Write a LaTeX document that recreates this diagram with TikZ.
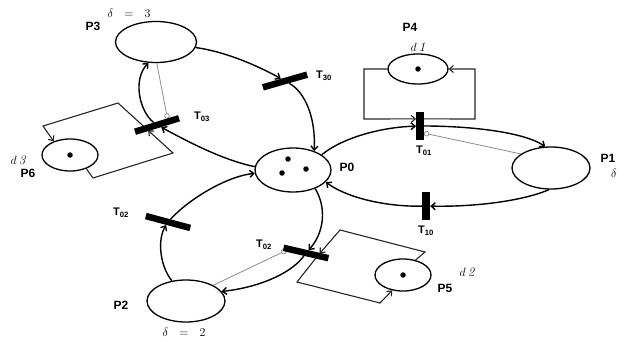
\documentclass[tikz,border=0pt]{standalone}
\usepackage{fontspec}
\setsansfont{Liberation Sans}
\usetikzlibrary{shapes.geometric,arrows.meta,calc,backgrounds}
\begin{document}
\begin{tikzpicture}[x=1pt,y=-1pt,
  place/.style={ellipse, draw, line width=1.3pt, inner sep=0pt},
  tbar/.style={rectangle, fill=black, inner sep=0pt, minimum width=46pt, minimum height=6.5pt},
  vbar/.style={rectangle, fill=black, inner sep=0pt, minimum width=7.5pt, minimum height=28pt},
  arc/.style={line width=1.4pt, -{Straight Barb[length=4pt,width=7pt]}},
  loopline/.style={line width=1.1pt, draw=black!85, -{Straight Barb[length=4pt,width=7pt]}},
  inhib/.style={line width=0.8pt, draw=black!45, -{Circle[open,length=5.5pt,width=5.5pt]}},
  plabel/.style={font=\sffamily\bfseries\fontsize{12}{12}\selectfont, inner sep=0pt},
  tlabel/.style={font=\sffamily\bfseries\fontsize{11}{11}\selectfont, inner sep=0pt},
  dlabel/.style={font=\fontsize{13}{13}\selectfont, inner sep=0pt},
  token/.style={circle, fill=black, inner sep=0pt, minimum size=5.5pt},
]
\useasboundingbox (0,0) rectangle (626,342);

% places
\node[place, minimum width=76pt, minimum height=44pt] (P0) at (293,170) {};
\node[place, minimum width=78pt, minimum height=42pt] (P1) at (551,168) {};
\node[place, minimum width=78pt, minimum height=42pt] (P2) at (186,301) {};
\node[place, minimum width=81pt, minimum height=41pt] (P3) at (156,42) {};
\node[place, minimum width=60pt, minimum height=30pt] (P4) at (418,69) {};
\node[place, minimum width=56pt, minimum height=32pt] (P5) at (403,275) {};
\node[place, minimum width=56pt, minimum height=32pt] (P6) at (70,155) {};

% tokens
\node[token] (k1) at (288,159) {};
\node[token] (k2) at (282,173) {};
\node[token] (k3) at (306,169) {};
\node[token] (k4) at (418,69) {};
\node[token] (k5) at (403,275) {};
\node[token] (k6) at (70,155) {};

% transitions
\node[tbar, rotate=16] (T30) at (285,81) {};
\node[tbar, rotate=17] (T03) at (157,125) {};
\node[vbar] (T01) at (420,126) {};
\node[vbar, minimum width=8pt] (T10) at (426,206) {};
\node[tbar, rotate=-15] (T20) at (168,222) {};
\node[tbar, rotate=-13] (T02) at (306,253) {};

% labels
\node[plabel] (l0) at (347,167) {P0};
\node[plabel] (l1) at (608,158) {P1};
\node[dlabel] (s1) at (614,173) {$\delta$};
\node[plabel] (l2) at (121,305) {P2};
\node[dlabel] (s2) at (184,332) {$\delta\hspace{0.6em}=\hspace{0.6em}2$};
\node[plabel] (l3) at (93,26) {P3};
\node[dlabel] (s3) at (129,13) {$\delta\hspace{0.6em}=\hspace{0.6em}3$};
\node[plabel] (l4) at (410,27) {P4};
\node[dlabel] (d1) at (418,47) {$d\,\mathit{1}$};
\node[plabel] (l5) at (445,288) {P5};
\node[dlabel] (d2) at (467,272) {$d\,\mathit{2}$};
\node[plabel] (l6) at (28,173) {P6};
\node[dlabel] (d3) at (18,160) {$d\,\mathit{3}$};
\node[tlabel] (n30) at (324,76) {T\textsubscript{30}};
\node[tlabel] (n03) at (202,117) {T\textsubscript{03}};
\node[tlabel] (n01) at (424,151) {T\textsubscript{01}};
\node[tlabel] (n10) at (426,231) {T\textsubscript{10}};
\node[tlabel] (n20) at (121,213) {T\textsubscript{02}};
\node[tlabel] (n02) at (264,245) {T\textsubscript{02}};

% loop corners
\coordinate (a4) at (364,69);
\coordinate (b4) at (364,119);
\coordinate (c4) at (475,119);
\coordinate (e4) at (475,69);
\coordinate (tl6) at (43,126);
\coordinate (tr6) at (118,103);
\coordinate (br6) at (173,153);
\coordinate (bl6) at (93,178);
\coordinate (tl5) at (340,230);
\coordinate (tr5) at (425,252);
\coordinate (br5) at (380,303);
\coordinate (bl5) at (297,282);

% points on the bars
\coordinate (t01in) at ($(T01.west)!0.5!(T01.north west)$);
\coordinate (t01out) at ($(T01.east)!0.5!(T01.north east)$);
\coordinate (t03in) at ($(T03)!0.5!(T03.west)$);
\coordinate (t02in) at ($(T02)!0.52!(T02.east)$);
\coordinate (h03) at ($(T03)!0.5!(T03.east)$);
\coordinate (h01) at ($(T01.east)!0.5!(T01.south east)$);
\coordinate (h02) at ($(T02)!0.75!(T02.west)$);

\begin{pgfonlayer}{background}
% main arcs
\draw[arc] (P3.-8) .. controls (228,52) and (262,68) .. (T30);
\draw[arc] (T30) .. controls (305,92) and (316,118) .. (P0.42);
\draw[arc] (P0.175) .. controls (222,160) and (185,140) .. (T03);
\draw[arc] (T03) .. controls (140,112) and (132,80) .. (P3.-110);
\draw[arc] (P0.28) .. controls (345,136) and (385,127) .. (T01);
\draw[arc] (T01) .. controls (465,126) and (522,131) .. (P1.105);
\draw[arc] (P1.-95) .. controls (520,202) and (470,207) .. (T10);
\draw[arc] (T10) .. controls (385,207) and (345,197) .. (P0.-20);
\draw[arc] (P0.-40) .. controls (327,208) and (324,233) .. (T02);
\draw[arc] (T02) .. controls (290,275) and (255,288) .. (P2.15);
\draw[arc] (P2.125) .. controls (160,266) and (157,240) .. (T20);
\draw[arc] (T20) .. controls (190,198) and (228,176) .. (P0.-175);

% delay loops
\draw[loopline] (P4.west) -- (a4) -- (b4) -- (t01in);
\draw[loopline] (t01out) -- (c4) -- (e4) -- (P4.east);
\draw[loopline, shorten >=3pt] (P6.-40) -- (bl6) -- (br6) -- (t03in);
\draw[loopline, shorten <=3pt] (t03in) -- (tr6) -- (tl6) -- (P6.140);
\draw[loopline, shorten >=3pt] (P5.50) -- (tr5) -- (tl5) -- (t02in);
\draw[loopline, shorten <=3pt] (t02in) -- (bl5) -- (br5) -- (P5.-125);

% inhibitor arcs
\draw[inhib, shorten >=3pt] (P3.-88) -- (h03);
\draw[inhib] (P1.155) -- (h01);
\draw[inhib, shorten >=3pt] (P2.30) -- (h02);
\end{pgfonlayer}
\end{tikzpicture}
\end{document}
